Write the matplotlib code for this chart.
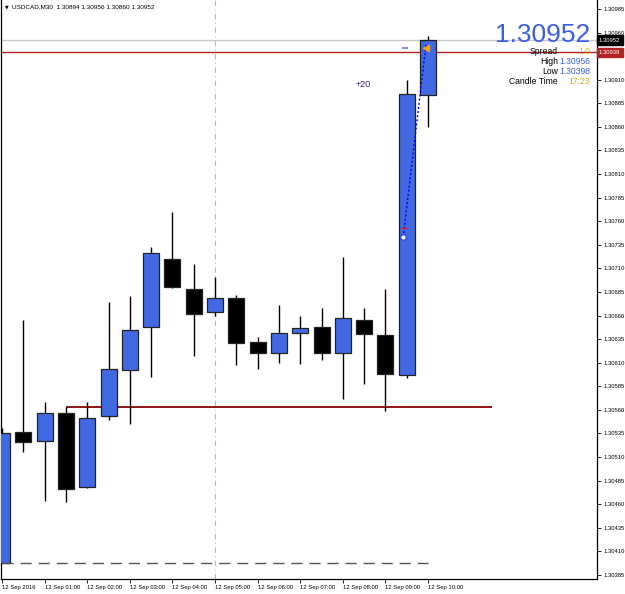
import matplotlib
matplotlib.use("Agg")
import matplotlib.pyplot as plt
import numpy as np

# USDCAD M30 candles, 12 Sep 2016 00:00 .. 10:00
opens = [1.30398, 1.30537, 1.30527, 1.30557, 1.30478, 1.30554, 1.30602, 1.30648,
         1.30720, 1.30688, 1.30664, 1.30679, 1.30632, 1.30620, 1.30642, 1.30648,
         1.30620, 1.30655, 1.30639, 1.30597, 1.30894]
highs = [1.30541, 1.30655, 1.30568, 1.30563, 1.30568, 1.30674, 1.30681, 1.30733,
         1.30770, 1.30715, 1.30701, 1.30682, 1.30637, 1.30671, 1.30659, 1.30668,
         1.30722, 1.30668, 1.30688, 1.30910, 1.30956]
lows = [1.30398, 1.30515, 1.30463, 1.30462, 1.30477, 1.30549, 1.30545, 1.30595,
        1.30689, 1.30617, 1.30660, 1.30608, 1.30603, 1.30610, 1.30609, 1.30613,
        1.30572, 1.30587, 1.30559, 1.30594, 1.30860]
closes = [1.30536, 1.30526, 1.30557, 1.30476, 1.30551, 1.30603, 1.30645, 1.30726,
          1.30690, 1.30662, 1.30679, 1.30631, 1.30620, 1.30642, 1.30647, 1.30620,
          1.30657, 1.30640, 1.30598, 1.30895, 1.30952]

time_labels = ["12 Sep 2016", "12 Sep 01:00", "12 Sep 02:00", "12 Sep 03:00",
               "12 Sep 04:00", "12 Sep 05:00", "12 Sep 06:00", "12 Sep 07:00",
               "12 Sep 08:00", "12 Sep 09:00", "12 Sep 10:00"]

bid = 1.30952
ask_line = 1.30939
day_low = 1.30398
day_high = 1.30956
support = 1.30563
support_span = [3, 23]
separator_bar = 10
trend_x = [18.83, 19.9]
trend_y = [1.30743, 1.30947]

W, H = 625, 594
fig = plt.figure(figsize=(W / 100, H / 100), dpi=100)
ax = fig.add_axes([1 / W, 15 / H, 596 / W, 579 / H])

x = np.arange(len(opens))
o = np.array(opens)
c = np.array(closes)
bull = c >= o
colors = np.where(bull, "#4169E1", "#000000")

ax.vlines(x, lows, highs, color="#000000", linewidth=1.0, zorder=2)
ax.bar(x, np.abs(c - o), bottom=np.minimum(o, c), width=0.75, color=colors,
       edgecolor="#222222", linewidth=0.9, zorder=3)

# levels
ax.axhline(bid, color="#C8C8C8", linewidth=1.0, zorder=1)
ax.axhline(ask_line, color="#B22222", linewidth=1.0, zorder=1)
ax.hlines(support, support_span[0], support_span[1], color="#8B0000", linewidth=1.3, zorder=1)
ax.hlines(day_low, 0, 20, color="#555555", linewidth=1.0, linestyles=(0, (8, 5)), zorder=4)
ax.axvline(separator_bar, color="#BBBBBB", linewidth=0.8, linestyle=(0, (5, 3, 1, 3)), zorder=0)

# trade arrow / trend line
ax.plot(trend_x, trend_y, color="#0000FF", linewidth=1.0, linestyle=(0, (1.5, 1.5)), zorder=5)
ax.plot(trend_x[0], trend_y[0], marker="o", markersize=4, markerfacecolor="white",
        markeredgecolor="#3050E0", zorder=6)
ax.plot(trend_x[0] + 0.05, trend_y[0] + 0.0001, marker="_", markersize=4, color="#E02020", zorder=6)
ax.plot(trend_x[1], 1.30944, marker="<", markersize=4, color="#FFA500", zorder=6)
ax.text(16.95, 1.30905, "+20", color="#2A1A8C", fontsize=6.5, ha="center", va="center",
        family="Liberation Sans")
ax.plot(18.92, 1.30944, marker="_", markersize=5, markeredgewidth=1.5, color="#8A8AFF", zorder=6)

ax.set_xlim(-0.05, 27.93)
ax.set_ylim(1.303807, 1.309945)

yt = np.arange(1.30385, 1.30990, 0.00025)
ax.yaxis.tick_right()
ax.set_yticks(yt)
ax.set_yticklabels(["%.5f" % v for v in yt])
ax.set_xticks(np.arange(0, 21, 2))
ax.set_xticklabels(time_labels, ha="left")
ax.tick_params(axis="both", direction="out", length=3, width=0.6, labelsize=4.2, pad=1.5,
               colors="#000000")
for lab in ax.get_xticklabels() + ax.get_yticklabels():
    lab.set_family("Liberation Sans")

ax.spines["top"].set_visible(False)
for s in ["left", "bottom", "right"]:
    ax.spines[s].set_linewidth(0.9)

# price boxes on the axis
ax.annotate("%.5f" % bid, xy=(1.0, bid), xycoords=("axes fraction", "data"),
            xytext=(2, 0), textcoords="offset pixels", va="center", ha="left",
            color="white", fontsize=4.2, family="Liberation Sans", zorder=10,
            bbox=dict(boxstyle="square,pad=0.4", fc="black", ec="black"), annotation_clip=False)
ax.annotate("%.5f" % ask_line, xy=(1.0, ask_line), xycoords=("axes fraction", "data"),
            xytext=(2, 0), textcoords="offset pixels", va="center", ha="left",
            color="white", fontsize=4.2, family="Liberation Sans", zorder=10,
            bbox=dict(boxstyle="square,pad=0.4", fc="#B22222", ec="#B22222"), annotation_clip=False)

# header and info panel
fig.text(5 / W, 1 - 7 / H, "\u25bc", fontsize=3.5, va="center", ha="left")
fig.text(12 / W, 1 - 7 / H, "USDCAD,M30  1.30894 1.30956 1.30860 1.30952",
         fontsize=4.6, va="center", ha="left", family="Liberation Sans")

fig.text(590 / W, 1 - 35 / H, "%.5f" % bid, fontsize=19, color="#3A5FE0",
         ha="right", va="center", family="Liberation Sans")
info = [("Spread", "1.0", "#DAA520", 52),
        ("High", "%.5f" % day_high, "#3A5FE0", 62),
        ("Low", "%.5f" % day_low, "#3A5FE0", 72),
        ("Candle Time", "17:23", "#DAA520", 82)]
for name, val, col, yy in info:
    fig.text(558 / W, 1 - yy / H, name, fontsize=6.2, color="black", ha="right",
             va="center", family="Liberation Sans")
    fig.text(590 / W, 1 - yy / H, val, fontsize=6.2, color=col, ha="right",
             va="center", family="Liberation Sans")

fig.savefig("out.png", dpi=100, facecolor="white")
